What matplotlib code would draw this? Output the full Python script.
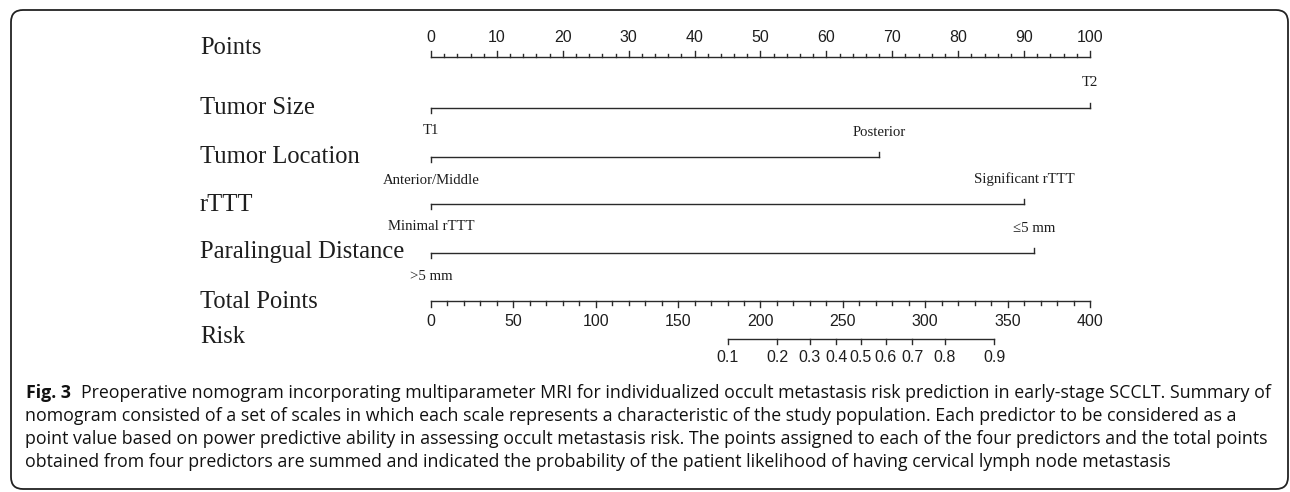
import numpy as np
import matplotlib
matplotlib.use("Agg")
import matplotlib.pyplot as plt
from matplotlib.patches import FancyBboxPatch

# --- data ---
points_ticks = list(range(0, 101, 10))
points_minor = list(range(0, 101, 2))

row_names = ["Points", "Tumor Size", "Tumor Location", "rTTT",
             "Paralingual Distance", "Total Points", "Risk"]

tumor_size_levels = ["T1", "T2"]
tumor_size_pts = [0, 100]
tumor_location_levels = ["Anterior/Middle", "Posterior"]
tumor_location_pts = [0, 68]
rttt_levels = ["Minimal rTTT", "Significant rTTT"]
rttt_pts = [0, 90]
paralingual_levels = [">5 mm", "\u22645 mm"]
paralingual_pts = [0, 91.5]

total_ticks = list(range(0, 401, 50))
total_minor = list(range(0, 401, 10))

risk_labels = ["0.1", "0.2", "0.3", "0.4", "0.5", "0.6", "0.7", "0.8", "0.9"]
risk_total_points = [180, 210, 230, 246, 261, 276, 292, 312, 342]

caption_bold = "Fig. 3"
caption_lines = [
    "Preoperative nomogram incorporating multiparameter MRI for individualized occult metastasis risk prediction in early-stage SCCLT. Summary of",
    "nomogram consisted of a set of scales in which each scale represents a characteristic of the study population. Each predictor to be considered as a",
    "point value based on power predictive ability in assessing occult metastasis risk. The points assigned to each of the four predictors and the total points",
    "obtained from four predictors are summed and indicated the probability of the patient likelihood of having cervical lymph node metastasis",
]

# --- layout (pixels) ---
W, H = 1290, 492
PX0, PX100 = 431, 1090          # x pixel of 0 and 100 points
PPX = (PX100 - PX0) / 100.0
LABEL_X = 200
row_y = [57, 108, 157, 204, 253, 301, 339]
row_label_y = [48, 108, 157, 205, 252, 302, 337]
LC = "#2a2a2a"
TC = "#1e1e1e"
SERIF = ["Liberation Serif", "DejaVu Serif"]
SANS = ["Liberation Sans", "DejaVu Sans"]


def px2pt(px):
    return (px - PX0) / PPX


fig = plt.figure(figsize=(W / 100, H / 100), dpi=100)
ax = fig.add_axes([0, 0, 1, 1])
ax.set_xlim(px2pt(0), px2pt(W))
ax.set_ylim(H, 0)
ax.axis("off")

# frame
frame = fig.add_axes([0, 0, 1, 1], zorder=-1)
frame.set_xlim(0, W)
frame.set_ylim(H, 0)
frame.axis("off")
frame.add_patch(FancyBboxPatch((11, 10), 1277, 479,
                               boxstyle="round,pad=0,rounding_size=12",
                               fc="none", ec="#222222", lw=1.3))

# row labels
for name, y in zip(row_names, row_label_y):
    ax.text(px2pt(LABEL_X), y, name, family=SERIF, fontsize=17.7,
            color=TC, ha="left", va="center")

# Points axis (ticks up, labels above)
y = row_y[0]
ax.plot([0, 100], [y, y], color=LC, lw=1.0)
for v in points_minor:
    ln = 6 if v % 10 == 0 else 3
    ax.plot([v, v], [y, y - ln], color=LC, lw=1.0)
for v in points_ticks:
    ax.text(v, 37, str(v), family=SANS, fontsize=11.5, color=TC,
            ha="center", va="center")

# predictor scales
predictors = [
    (tumor_size_levels, tumor_size_pts),
    (tumor_location_levels, tumor_location_pts),
    (rttt_levels, rttt_pts),
    (paralingual_levels, paralingual_pts),
]
for i, (levels, pts) in enumerate(predictors):
    y = row_y[i + 1]
    ax.plot([min(pts), max(pts)], [y, y], color=LC, lw=1.0)
    for j, (lab, p) in enumerate(zip(levels, pts)):
        d = 5 if j % 2 == 0 else -5      # first level below, second above
        ax.plot([p, p], [y, y + d], color=LC, lw=1.0)
        ax.text(p, y + (23 if d > 0 else -25), lab, family=SERIF,
                fontsize=10.6, color=TC, ha="center", va="center")

# Total points axis (ticks down, labels below)
y = row_y[5]
ax.plot([0, 100], [y, y], color=LC, lw=1.0)
for v in total_minor:
    ln = 6 if v % 50 == 0 else 3.5
    ax.plot([v / 4, v / 4], [y, y + ln], color=LC, lw=1.0)
for v in total_ticks:
    ax.text(v / 4, 321, str(v), family=SANS, fontsize=11.5, color=TC,
            ha="center", va="center")

# Risk axis
y = row_y[6]
rp = [t / 4 for t in risk_total_points]
ax.plot([rp[0], rp[-1]], [y, y], color=LC, lw=1.0)
for lab, p in zip(risk_labels, rp):
    ax.plot([p, p], [y, y + 5], color=LC, lw=1.0)
    ax.text(p, 358, lab, family=SANS, fontsize=11.5, color=TC,
            ha="center", va="center")

# caption
cap_y = [393, 416, 439, 462]
frame.text(26, cap_y[0], caption_bold, family="Open Sans", fontweight="bold",
           fontsize=12.75, color="#111111", ha="left", va="center")
for k, (line, cy) in enumerate(zip(caption_lines, cap_y)):
    frame.text(81 if k == 0 else 25, cy, line, family="Open Sans",
               fontsize=12.75, color="#111111", ha="left", va="center")

fig.savefig("out.png", dpi=100)
